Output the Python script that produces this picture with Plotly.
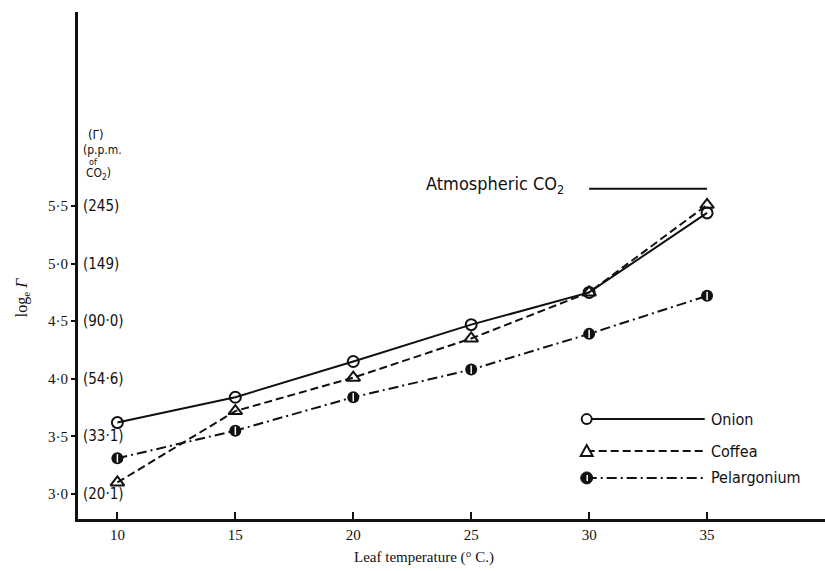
import plotly.graph_objects as go

# ---------------- data ----------------
temperature = [10, 15, 20, 25, 30, 35]
onion = [3.62, 3.84, 4.15, 4.47, 4.75, 5.44]
coffea = [3.10, 3.72, 4.01, 4.35, 4.75, 5.51]
pelargonium = [3.31, 3.55, 3.84, 4.08, 4.39, 4.72]

series_names = ["Onion", "Coffea", "Pelargonium"]

y_tick_vals = [3.0, 3.5, 4.0, 4.5, 5.0, 5.5]
y_tick_text = ["3·0", "3·5", "4·0", "4·5", "5·0", "5·5"]
ppm_text = ["(20·1)", "(33·1)", "(54·6)", "(90·0)", "(149)", "(245)"]
x_tick_vals = [10, 15, 20, 25, 30, 35]

atmos_co2_log = 5.65
atmos_x = [30, 35]

# ---------------- styles ----------------
SERIF = "Liberation Serif, DejaVu Serif, serif"
HAND = "Liberation Sans Narrow, DejaVu Sans Condensed, Arial Narrow, sans-serif"
BLACK = "#111111"

fig = go.Figure()

fig.add_trace(go.Scatter(
    x=temperature, y=onion, mode="lines+markers", name=series_names[0],
    line=dict(color=BLACK, width=2, dash="solid"),
    marker=dict(symbol="circle-open", size=11, color=BLACK, line=dict(width=2)),
    showlegend=False))
fig.add_trace(go.Scatter(
    x=temperature, y=coffea, mode="lines+markers", name=series_names[1],
    line=dict(color=BLACK, width=2, dash="8px,4px"),
    marker=dict(symbol="triangle-up-open", size=12, color=BLACK, line=dict(width=2)),
    showlegend=False))
fig.add_trace(go.Scatter(
    x=temperature, y=pelargonium, mode="lines+markers", name=series_names[2],
    line=dict(color=BLACK, width=2, dash="10px,4px,2px,4px"),
    marker=dict(symbol="circle", size=12, color=BLACK),
    showlegend=False))
fig.add_trace(go.Scatter(
    x=temperature, y=pelargonium, mode="markers", hoverinfo="skip",
    marker=dict(symbol="line-ns", size=6, color="white", line=dict(width=1.5, color="white")),
    showlegend=False))

# atmospheric CO2 line
fig.add_trace(go.Scatter(
    x=atmos_x, y=[atmos_co2_log] * len(atmos_x), mode="lines",
    line=dict(color=BLACK, width=2), showlegend=False, hoverinfo="skip"))

annotations = []
shapes = []

# ppm labels right of the y axis
for v, t in zip(y_tick_vals, ppm_text):
    annotations.append(dict(xref="paper", yref="y", x=0, y=v, xshift=3,
                            xanchor="left", yanchor="middle", showarrow=False,
                            text=t, font=dict(family=HAND, size=15, color=BLACK)))

# header of ppm column
for txt, yy, sz, xs in [("(Γ)", 6.12, 13, 9), ("(p.p.m.", 5.985, 12, 4),
                        ("of", 5.885, 9, 10), ("CO<sub>2</sub>)", 5.775, 12, 7)]:
    annotations.append(dict(xref="paper", yref="y", x=0, y=yy, xshift=xs,
                            xanchor="left", yanchor="middle", showarrow=False,
                            borderpad=0,
                            text=txt, font=dict(family=HAND, size=sz, color=BLACK)))

# Atmospheric CO2 label
annotations.append(dict(xref="x", yref="y", x=29.0, y=atmos_co2_log, yshift=4,
                        xanchor="right", yanchor="middle", showarrow=False,
                        text="Atmospheric CO<sub>2</sub>",
                        font=dict(family=HAND, size=18, color=BLACK)))

# y axis title
annotations.append(dict(xref="paper", yref="y", x=0, y=4.7, xshift=-56,
                        xanchor="center", yanchor="middle", showarrow=False,
                        textangle=-90,
                        text="log<sub>e</sub> <i>Γ</i>",
                        font=dict(family=SERIF, size=16, color=BLACK)))

# x axis title
annotations.append(dict(xref="x", yref="paper", x=23.0, y=0, yshift=-38,
                        xanchor="center", yanchor="middle", showarrow=False,
                        text="Leaf temperature (° C.)",
                        font=dict(family=SERIF, size=15, color=BLACK)))

# custom legend (paper coordinates)
leg_x0, leg_x1, leg_tx = 0.681, 0.839, 0.845
leg_rows = [0.197, 0.134, 0.081]
leg_dash = ["solid", "8px,4px", "10px,4px,2px,4px"]
for name, yy, d in zip(series_names, leg_rows, leg_dash):
    shapes.append(dict(type="line", xref="paper", yref="paper",
                       x0=leg_x0, x1=leg_x1, y0=yy, y1=yy,
                       line=dict(color=BLACK, width=2, dash=d)))
    annotations.append(dict(xref="paper", yref="paper", x=leg_tx, y=yy,
                            xanchor="left", yanchor="middle", showarrow=False,
                            text=name, font=dict(family=HAND, size=16, color=BLACK)))

# legend symbols (pixel-sized shapes anchored in paper coords)
shapes.append(dict(type="circle", xref="paper", yref="paper",
                   xsizemode="pixel", ysizemode="pixel",
                   xanchor=leg_x0, yanchor=leg_rows[0],
                   x0=-5, x1=5, y0=-5, y1=5,
                   line=dict(color=BLACK, width=2), fillcolor="white"))
shapes.append(dict(type="path", xref="paper", yref="paper",
                   xsizemode="pixel", ysizemode="pixel",
                   xanchor=leg_x0, yanchor=leg_rows[1],
                   path="M -6 -5 L 6 -5 L 0 6 Z",
                   line=dict(color=BLACK, width=2), fillcolor="white"))
shapes.append(dict(type="circle", xref="paper", yref="paper",
                   xsizemode="pixel", ysizemode="pixel",
                   xanchor=leg_x0, yanchor=leg_rows[2],
                   x0=-6, x1=6, y0=-6, y1=6,
                   line=dict(color=BLACK, width=1), fillcolor=BLACK))
shapes.append(dict(type="line", xref="paper", yref="paper",
                   xsizemode="pixel", ysizemode="pixel",
                   xanchor=leg_x0, yanchor=leg_rows[2],
                   x0=0.5, x1=0.5, y0=-3, y1=3,
                   line=dict(color="white", width=1.5)))

fig.update_layout(
    width=825, height=571,
    margin=dict(l=78, r=0, t=12, b=52),
    paper_bgcolor="white", plot_bgcolor="white",
    showlegend=False,
    annotations=annotations,
    shapes=shapes,
    xaxis=dict(range=[8.33, 40.0], showgrid=False, zeroline=False,
               showline=True, linecolor=BLACK, linewidth=3,
               tickvals=x_tick_vals, ticks="inside", ticklen=7, tickwidth=1.5,
               tickcolor=BLACK,
               tickfont=dict(family=SERIF, size=15, color=BLACK)),
    yaxis=dict(range=[2.783, 7.184], showgrid=False, zeroline=False,
               showline=True, linecolor=BLACK, linewidth=3,
               tickvals=y_tick_vals, ticktext=y_tick_text,
               ticks="outside", ticklen=4, tickwidth=1.5, tickcolor=BLACK,
               tickfont=dict(family=SERIF, size=15, color=BLACK)),
)

fig.write_html("out.html", config={"displayModeBar": False},
               post_script="document.body.style.margin='0';document.body.style.overflow='hidden';")
